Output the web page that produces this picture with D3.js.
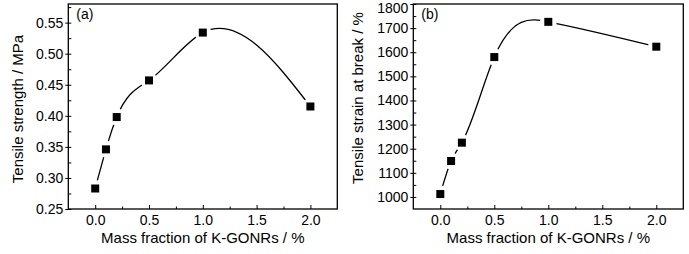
<!DOCTYPE html>
<html>
  <head>
    <meta charset="utf-8">
    <title>Tensile properties vs K-GONRs</title>
    <script src="https://cdn.jsdelivr.net/npm/d3@7"></script>
    <style>
      body { margin: 0; background: #fff; }
      svg { display: block; font-family: "Liberation Sans", Arial, sans-serif; }
      .axis path, .axis line { stroke: #000; stroke-width: 1; }
      .axis text { font-size: 14px; fill: #000; }
      .frame { fill: none; stroke: #000; stroke-width: 1.3; }
      .curve { fill: none; stroke: #000; stroke-width: 1.3; }
      .title { font-size: 15px; fill: #000; }
      .tag { font-size: 14px; fill: #000; }
    </style>
  </head>

  <body>
    <svg id="chart" width="689" height="254"></svg>

    <script>
      // data
      var fraction = [0, 0.1, 0.2, 0.5, 1.0, 2.0];
      var strength = [0.283, 0.346, 0.398, 0.457, 0.534, 0.415];
      var strain = [1012, 1149, 1225, 1580, 1726, 1623];

      var xTicks = [0, 0.5, 1.0, 1.5, 2.0];
      var xMinor = [0.25, 0.75, 1.25, 1.75];
      var strengthTicks = [0.25, 0.30, 0.35, 0.40, 0.45, 0.50, 0.55];
      var strengthMinor = [0.275, 0.325, 0.375, 0.425, 0.475, 0.525, 0.575];
      var strainTicks = [1000, 1100, 1200, 1300, 1400, 1500, 1600, 1700, 1800];
      var strainMinor = [1050, 1150, 1250, 1350, 1450, 1550, 1650, 1750];

      var xTitle = "Mass fraction of K-GONRs / %";

      var chart = d3.select("#chart");

      // natural cubic spline in x, drawn as bezier pieces
      function splinePath(px, py) {
        var n = px.length, h = [], M = new Array(n).fill(0);
        for (var i = 0; i < n - 1; i++) h.push(px[i + 1] - px[i]);
        var a = [], b = [], c = [], r = [];
        for (var i = 1; i < n - 1; i++) {
          a.push(h[i - 1]);
          b.push(2 * (h[i - 1] + h[i]));
          c.push(h[i]);
          r.push(6 * ((py[i + 1] - py[i]) / h[i] - (py[i] - py[i - 1]) / h[i - 1]));
        }
        var k = r.length;
        for (var i = 1; i < k; i++) {
          var w = a[i] / b[i - 1];
          b[i] -= w * c[i - 1];
          r[i] -= w * r[i - 1];
        }
        var sol = new Array(k);
        sol[k - 1] = r[k - 1] / b[k - 1];
        for (var i = k - 2; i >= 0; i--) sol[i] = (r[i] - c[i] * sol[i + 1]) / b[i];
        for (var i = 0; i < k; i++) M[i + 1] = sol[i];

        var m = [];
        for (var i = 0; i < n - 1; i++) {
          m.push((py[i + 1] - py[i]) / h[i] - h[i] * (2 * M[i] + M[i + 1]) / 6);
        }
        m.push((py[n - 1] - py[n - 2]) / h[n - 2] + h[n - 2] * (M[n - 2] + 2 * M[n - 1]) / 6);

        var p = d3.path();
        p.moveTo(px[0], py[0]);
        for (var i = 0; i < n - 1; i++) {
          var d = h[i] / 3;
          p.bezierCurveTo(px[i] + d, py[i] + m[i] * d,
                          px[i + 1] - d, py[i + 1] - m[i + 1] * d,
                          px[i + 1], py[i + 1]);
        }
        return p.toString();
      }

      function drawPanel(opts) {
        var g = chart.append("g");
        var x = d3.scaleLinear().domain([-0.25, 2.25]).range([opts.left, opts.right]);
        var y = d3.scaleLinear().domain(opts.yDomain).range([opts.bottom, opts.top]);

        // x axis
        g.append("g").attr("class", "axis")
          .attr("transform", "translate(0," + opts.bottom + ")")
          .call(d3.axisBottom(x).tickValues(xTicks).tickFormat(d3.format(".1f"))
            .tickSizeInner(-4).tickSizeOuter(0).tickPadding(6));
        g.append("g").attr("class", "axis")
          .attr("transform", "translate(0," + opts.bottom + ")")
          .call(d3.axisBottom(x).tickValues(xMinor).tickFormat("")
            .tickSizeInner(-2.5).tickSizeOuter(0));

        // y axis
        var yAxisGroup = g.append("g").attr("class", "axis")
          .attr("transform", "translate(" + opts.left + ",0)")
          .call(d3.axisLeft(y).tickValues(opts.yTicks).tickFormat(opts.yFormat)
            .tickSizeInner(3).tickSizeOuter(0).tickPadding(2));
        // keep the top label inside the picture
        yAxisGroup.selectAll("text")
          .filter(function(d) { return y(d) < opts.top + 4; })
          .attr("dy", "0.64em");
        g.append("g").attr("class", "axis")
          .attr("transform", "translate(" + opts.left + ",0)")
          .call(d3.axisLeft(y).tickValues(opts.yTicks.concat(opts.yMinor)).tickFormat("")
            .tickSizeInner(-3).tickSizeOuter(0));
        g.selectAll(".axis path").remove();

        g.append("rect").attr("class", "frame")
          .attr("x", opts.left).attr("y", opts.top)
          .attr("width", opts.right - opts.left).attr("height", opts.bottom - opts.top);

        var px = fraction.map(function(d) { return x(d); });
        var py = opts.values.map(function(d) { return y(d); });

        g.append("path").attr("class", "curve").attr("d", splinePath(px, py));

        // gap around symbols
        g.selectAll(".halo")
          .data(fraction)
          .enter().append("circle")
            .attr("cx", function(d) { return x(d); })
            .attr("cy", function(d, i) { return y(opts.values[i]); })
            .attr("r", 8.5)
            .attr("fill", "#fff");

        g.selectAll(".pt")
          .data(fraction)
          .enter().append("rect")
            .attr("x", function(d) { return x(d) - 4; })
            .attr("y", function(d, i) { return y(opts.values[i]) - 4; })
            .attr("width", 8).attr("height", 8)
            .attr("fill", "#000");

        g.append("text").attr("class", "tag")
          .attr("x", opts.left + 8).attr("y", opts.top + 15)
          .text(opts.tag);

        g.append("text").attr("class", "title")
          .attr("x", (opts.left + opts.right) / 2).attr("y", 242.5)
          .attr("text-anchor", "middle")
          .text(xTitle);

        g.append("text").attr("class", "title")
          .attr("transform", "translate(" + opts.yTitleX + "," + opts.yTitleY + ") rotate(-90)")
          .attr("text-anchor", "middle")
          .text(opts.yTitle);
      }

      drawPanel({
        left: 68.3, right: 337.3, top: 4, bottom: 209,
        yDomain: [0.25, 0.58],
        yTicks: strengthTicks, yMinor: strengthMinor,
        yFormat: d3.format(".2f"),
        values: strength,
        tag: "(a)",
        yTitle: "Tensile strength / MPa",
        yTitleX: 23, yTitleY: 109
      });

      drawPanel({
        left: 413.3, right: 683.3, top: 4, bottom: 209,
        yDomain: [950, 1800],
        yTicks: strainTicks, yMinor: strainMinor,
        yFormat: d3.format("d"),
        values: strain,
        tag: "(b)",
        yTitle: "Tensile strain at break / %",
        yTitleX: 363, yTitleY: 98
      });
    </script>
  </body>
</html>
